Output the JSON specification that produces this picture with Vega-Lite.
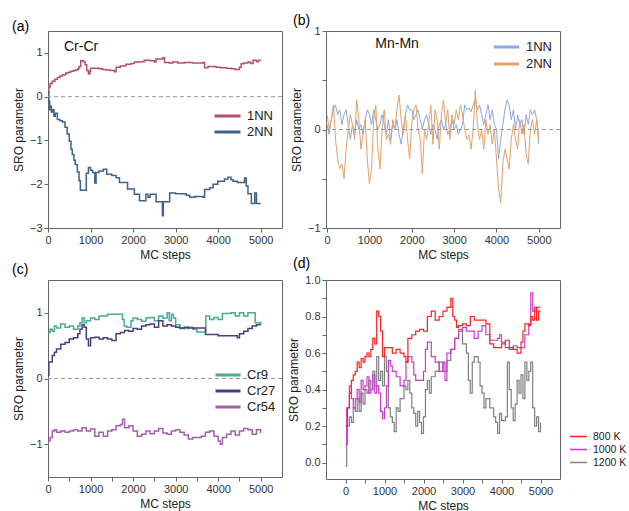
{
  "$schema": "https://vega.github.io/schema/vega-lite/v6.json",
  "padding": {"left": 11, "top": 13, "right": 5, "bottom": 3},
  "background": "white",
  "config": {
    "font": "Liberation Sans",
    "view": {"stroke": "#666", "strokeWidth": 1},
    "axis": {"domain": false, "grid": false, "tickColor": "#666", "tickSize": 4, "labelFontSize": 11, "labelColor": "#333", "titleFontSize": 12, "titleFontWeight": "normal", "titleColor": "#222", "labelFont": "Liberation Sans", "titleFont": "Liberation Sans", "labelOverlap": false, "labelFlush": false},
    "legend": {"orient": "none", "padding": 0, "labelFont": "Liberation Sans", "labelColor": "#222", "symbolType": "stroke", "title": null}
  },
  "datasets": {
    "a": [
      {"step":0,"sro":0.1,"s":"1NN"},{"step":20,"sro":0.22,"s":"1NN"},{"step":50,"sro":0.3,"s":"1NN"},{"step":100,"sro":0.35,"s":"1NN"},{"step":160,"sro":0.4,"s":"1NN"},{"step":220,"sro":0.44,"s":"1NN"},{"step":280,"sro":0.47,"s":"1NN"},{"step":340,"sro":0.5,"s":"1NN"},{"step":420,"sro":0.54,"s":"1NN"},{"step":480,"sro":0.56,"s":"1NN"},{"step":530,"sro":0.58,"s":"1NN"},{"step":600,"sro":0.6,"s":"1NN"},{"step":650,"sro":0.61,"s":"1NN"},{"step":700,"sro":0.64,"s":"1NN"},{"step":730,"sro":0.69,"s":"1NN"},{"step":770,"sro":0.82,"s":"1NN"},{"step":830,"sro":0.8,"s":"1NN"},{"step":870,"sro":0.73,"s":"1NN"},{"step":910,"sro":0.6,"s":"1NN"},{"step":950,"sro":0.52,"s":"1NN"},{"step":980,"sro":0.57,"s":"1NN"},{"step":1000,"sro":0.65,"s":"1NN"},{"step":1200,"sro":0.64,"s":"1NN"},{"step":1280,"sro":0.62,"s":"1NN"},{"step":1360,"sro":0.61,"s":"1NN"},{"step":1460,"sro":0.6,"s":"1NN"},{"step":1560,"sro":0.57,"s":"1NN"},{"step":1600,"sro":0.67,"s":"1NN"},{"step":1700,"sro":0.7,"s":"1NN"},{"step":1830,"sro":0.74,"s":"1NN"},{"step":1950,"sro":0.76,"s":"1NN"},{"step":2030,"sro":0.79,"s":"1NN"},{"step":2150,"sro":0.8,"s":"1NN"},{"step":2260,"sro":0.83,"s":"1NN"},{"step":2400,"sro":0.82,"s":"1NN"},{"step":2500,"sro":0.79,"s":"1NN"},{"step":2540,"sro":0.86,"s":"1NN"},{"step":2700,"sro":0.89,"s":"1NN"},{"step":2740,"sro":0.78,"s":"1NN"},{"step":2850,"sro":0.77,"s":"1NN"},{"step":2930,"sro":0.79,"s":"1NN"},{"step":3050,"sro":0.77,"s":"1NN"},{"step":3210,"sro":0.78,"s":"1NN"},{"step":3400,"sro":0.77,"s":"1NN"},{"step":3640,"sro":0.78,"s":"1NN"},{"step":3680,"sro":0.66,"s":"1NN"},{"step":3760,"sro":0.69,"s":"1NN"},{"step":3950,"sro":0.67,"s":"1NN"},{"step":4050,"sro":0.66,"s":"1NN"},{"step":4190,"sro":0.65,"s":"1NN"},{"step":4300,"sro":0.64,"s":"1NN"},{"step":4390,"sro":0.62,"s":"1NN"},{"step":4500,"sro":0.67,"s":"1NN"},{"step":4540,"sro":0.75,"s":"1NN"},{"step":4600,"sro":0.77,"s":"1NN"},{"step":4700,"sro":0.79,"s":"1NN"},{"step":4760,"sro":0.76,"s":"1NN"},{"step":4820,"sro":0.83,"s":"1NN"},{"step":4900,"sro":0.8,"s":"1NN"},{"step":4950,"sro":0.83,"s":"1NN"},{"step":5000,"sro":0.83,"s":"1NN"},
      {"step":0,"sro":0.1,"s":"2NN"},{"step":20,"sro":-0.1,"s":"2NN"},{"step":40,"sro":-0.3,"s":"2NN"},{"step":60,"sro":-0.22,"s":"2NN"},{"step":80,"sro":-0.35,"s":"2NN"},{"step":110,"sro":-0.3,"s":"2NN"},{"step":140,"sro":-0.45,"s":"2NN"},{"step":170,"sro":-0.38,"s":"2NN"},{"step":220,"sro":-0.52,"s":"2NN"},{"step":280,"sro":-0.55,"s":"2NN"},{"step":340,"sro":-0.58,"s":"2NN"},{"step":400,"sro":-0.7,"s":"2NN"},{"step":450,"sro":-0.85,"s":"2NN"},{"step":500,"sro":-1.02,"s":"2NN"},{"step":540,"sro":-1.2,"s":"2NN"},{"step":570,"sro":-1.32,"s":"2NN"},{"step":610,"sro":-1.45,"s":"2NN"},{"step":640,"sro":-1.55,"s":"2NN"},{"step":690,"sro":-1.72,"s":"2NN"},{"step":730,"sro":-1.92,"s":"2NN"},{"step":760,"sro":-2.14,"s":"2NN"},{"step":900,"sro":-1.75,"s":"2NN"},{"step":950,"sro":-1.62,"s":"2NN"},{"step":1000,"sro":-1.68,"s":"2NN"},{"step":1050,"sro":-1.73,"s":"2NN"},{"step":1100,"sro":-1.97,"s":"2NN"},{"step":1130,"sro":-1.73,"s":"2NN"},{"step":1200,"sro":-1.7,"s":"2NN"},{"step":1300,"sro":-1.66,"s":"2NN"},{"step":1380,"sro":-1.77,"s":"2NN"},{"step":1500,"sro":-1.8,"s":"2NN"},{"step":1600,"sro":-1.85,"s":"2NN"},{"step":1680,"sro":-1.96,"s":"2NN"},{"step":1870,"sro":-2.11,"s":"2NN"},{"step":2030,"sro":-2.23,"s":"2NN"},{"step":2150,"sro":-2.38,"s":"2NN"},{"step":2300,"sro":-2.23,"s":"2NN"},{"step":2350,"sro":-2.3,"s":"2NN"},{"step":2400,"sro":-2.23,"s":"2NN"},{"step":2540,"sro":-2.4,"s":"2NN"},{"step":2690,"sro":-2.72,"s":"2NN"},{"step":2710,"sro":-2.4,"s":"2NN"},{"step":2860,"sro":-2.2,"s":"2NN"},{"step":3000,"sro":-2.22,"s":"2NN"},{"step":3250,"sro":-2.25,"s":"2NN"},{"step":3330,"sro":-2.3,"s":"2NN"},{"step":3450,"sro":-2.28,"s":"2NN"},{"step":3640,"sro":-2.3,"s":"2NN"},{"step":3680,"sro":-2.12,"s":"2NN"},{"step":3800,"sro":-2.08,"s":"2NN"},{"step":3880,"sro":-2.0,"s":"2NN"},{"step":3990,"sro":-1.93,"s":"2NN"},{"step":4150,"sro":-1.88,"s":"2NN"},{"step":4230,"sro":-1.84,"s":"2NN"},{"step":4300,"sro":-1.9,"s":"2NN"},{"step":4350,"sro":-1.93,"s":"2NN"},{"step":4450,"sro":-1.96,"s":"2NN"},{"step":4580,"sro":-1.96,"s":"2NN"},{"step":4620,"sro":-1.86,"s":"2NN"},{"step":4660,"sro":-2.04,"s":"2NN"},{"step":4700,"sro":-2.22,"s":"2NN"},{"step":4780,"sro":-2.44,"s":"2NN"},{"step":4860,"sro":-2.2,"s":"2NN"},{"step":4900,"sro":-2.44,"s":"2NN"},{"step":5000,"sro":-2.44,"s":"2NN"}
    ],
    "b": [
      {"step":0,"sro":0.05,"s":"1NN"},{"step":50,"sro":-0.05,"s":"1NN"},{"step":100,"sro":0.1,"s":"1NN"},{"step":150,"sro":0.2,"s":"1NN"},{"step":200,"sro":0.25,"s":"1NN"},{"step":250,"sro":0.15,"s":"1NN"},{"step":300,"sro":0.2,"s":"1NN"},{"step":350,"sro":0.05,"s":"1NN"},{"step":400,"sro":0.15,"s":"1NN"},{"step":450,"sro":0.2,"s":"1NN"},{"step":500,"sro":0.05,"s":"1NN"},{"step":550,"sro":-0.1,"s":"1NN"},{"step":600,"sro":0.05,"s":"1NN"},{"step":650,"sro":-0.05,"s":"1NN"},{"step":700,"sro":0.1,"s":"1NN"},{"step":750,"sro":0.0,"s":"1NN"},{"step":800,"sro":0.05,"s":"1NN"},{"step":850,"sro":-0.05,"s":"1NN"},{"step":900,"sro":0.1,"s":"1NN"},{"step":950,"sro":0.2,"s":"1NN"},{"step":1000,"sro":0.15,"s":"1NN"},{"step":1050,"sro":0.05,"s":"1NN"},{"step":1100,"sro":0.2,"s":"1NN"},{"step":1150,"sro":0.1,"s":"1NN"},{"step":1200,"sro":0.0,"s":"1NN"},{"step":1250,"sro":0.05,"s":"1NN"},{"step":1300,"sro":0.15,"s":"1NN"},{"step":1350,"sro":0.05,"s":"1NN"},{"step":1400,"sro":-0.05,"s":"1NN"},{"step":1450,"sro":0.1,"s":"1NN"},{"step":1500,"sro":-0.1,"s":"1NN"},{"step":1550,"sro":0.05,"s":"1NN"},{"step":1600,"sro":0.0,"s":"1NN"},{"step":1650,"sro":0.1,"s":"1NN"},{"step":1700,"sro":-0.05,"s":"1NN"},{"step":1750,"sro":-0.15,"s":"1NN"},{"step":1800,"sro":0.0,"s":"1NN"},{"step":1850,"sro":0.15,"s":"1NN"},{"step":1900,"sro":0.25,"s":"1NN"},{"step":1950,"sro":0.2,"s":"1NN"},{"step":2000,"sro":0.2,"s":"1NN"},{"step":2050,"sro":0.1,"s":"1NN"},{"step":2100,"sro":0.15,"s":"1NN"},{"step":2150,"sro":0.2,"s":"1NN"},{"step":2200,"sro":0.1,"s":"1NN"},{"step":2250,"sro":0.0,"s":"1NN"},{"step":2300,"sro":0.1,"s":"1NN"},{"step":2350,"sro":0.15,"s":"1NN"},{"step":2400,"sro":0.05,"s":"1NN"},{"step":2450,"sro":-0.05,"s":"1NN"},{"step":2500,"sro":0.05,"s":"1NN"},{"step":2550,"sro":0.0,"s":"1NN"},{"step":2600,"sro":-0.1,"s":"1NN"},{"step":2650,"sro":0.05,"s":"1NN"},{"step":2700,"sro":0.1,"s":"1NN"},{"step":2750,"sro":0.0,"s":"1NN"},{"step":2800,"sro":0.05,"s":"1NN"},{"step":2850,"sro":-0.05,"s":"1NN"},{"step":2900,"sro":0.0,"s":"1NN"},{"step":2950,"sro":0.1,"s":"1NN"},{"step":3000,"sro":0.0,"s":"1NN"},{"step":3050,"sro":0.05,"s":"1NN"},{"step":3100,"sro":-0.05,"s":"1NN"},{"step":3150,"sro":0.0,"s":"1NN"},{"step":3200,"sro":0.05,"s":"1NN"},{"step":3250,"sro":0.25,"s":"1NN"},{"step":3300,"sro":0.2,"s":"1NN"},{"step":3350,"sro":0.22,"s":"1NN"},{"step":3400,"sro":0.18,"s":"1NN"},{"step":3450,"sro":0.25,"s":"1NN"},{"step":3500,"sro":0.3,"s":"1NN"},{"step":3550,"sro":0.2,"s":"1NN"},{"step":3600,"sro":0.25,"s":"1NN"},{"step":3650,"sro":0.15,"s":"1NN"},{"step":3700,"sro":0.05,"s":"1NN"},{"step":3750,"sro":0.15,"s":"1NN"},{"step":3800,"sro":0.25,"s":"1NN"},{"step":3850,"sro":0.1,"s":"1NN"},{"step":3900,"sro":0.2,"s":"1NN"},{"step":3950,"sro":0.05,"s":"1NN"},{"step":4000,"sro":0.0,"s":"1NN"},{"step":4050,"sro":-0.3,"s":"1NN"},{"step":4100,"sro":-0.1,"s":"1NN"},{"step":4150,"sro":0.05,"s":"1NN"},{"step":4200,"sro":0.2,"s":"1NN"},{"step":4250,"sro":0.3,"s":"1NN"},{"step":4300,"sro":0.25,"s":"1NN"},{"step":4350,"sro":0.1,"s":"1NN"},{"step":4400,"sro":0.2,"s":"1NN"},{"step":4450,"sro":0.0,"s":"1NN"},{"step":4500,"sro":0.15,"s":"1NN"},{"step":4550,"sro":0.05,"s":"1NN"},{"step":4600,"sro":0.1,"s":"1NN"},{"step":4650,"sro":-0.05,"s":"1NN"},{"step":4700,"sro":0.15,"s":"1NN"},{"step":4750,"sro":0.05,"s":"1NN"},{"step":4800,"sro":0.2,"s":"1NN"},{"step":4850,"sro":0.15,"s":"1NN"},{"step":4900,"sro":0.2,"s":"1NN"},{"step":4950,"sro":0.1,"s":"1NN"},{"step":5000,"sro":-0.15,"s":"1NN"},
      {"step":0,"sro":0.15,"s":"2NN"},{"step":50,"sro":0.0,"s":"2NN"},{"step":100,"sro":0.1,"s":"2NN"},{"step":150,"sro":0.25,"s":"2NN"},{"step":200,"sro":-0.1,"s":"2NN"},{"step":250,"sro":-0.3,"s":"2NN"},{"step":300,"sro":-0.4,"s":"2NN"},{"step":350,"sro":-0.35,"s":"2NN"},{"step":400,"sro":-0.5,"s":"2NN"},{"step":450,"sro":-0.2,"s":"2NN"},{"step":500,"sro":0.0,"s":"2NN"},{"step":550,"sro":0.15,"s":"2NN"},{"step":600,"sro":0.05,"s":"2NN"},{"step":650,"sro":-0.1,"s":"2NN"},{"step":700,"sro":0.3,"s":"2NN"},{"step":750,"sro":0.1,"s":"2NN"},{"step":800,"sro":-0.2,"s":"2NN"},{"step":850,"sro":-0.05,"s":"2NN"},{"step":900,"sro":0.1,"s":"2NN"},{"step":950,"sro":-0.3,"s":"2NN"},{"step":1000,"sro":-0.55,"s":"2NN"},{"step":1050,"sro":-0.4,"s":"2NN"},{"step":1100,"sro":0.1,"s":"2NN"},{"step":1150,"sro":0.25,"s":"2NN"},{"step":1200,"sro":-0.2,"s":"2NN"},{"step":1250,"sro":-0.4,"s":"2NN"},{"step":1300,"sro":0.0,"s":"2NN"},{"step":1350,"sro":0.2,"s":"2NN"},{"step":1400,"sro":-0.1,"s":"2NN"},{"step":1450,"sro":-0.05,"s":"2NN"},{"step":1500,"sro":-0.15,"s":"2NN"},{"step":1550,"sro":0.1,"s":"2NN"},{"step":1600,"sro":0.0,"s":"2NN"},{"step":1650,"sro":0.2,"s":"2NN"},{"step":1700,"sro":0.35,"s":"2NN"},{"step":1750,"sro":0.1,"s":"2NN"},{"step":1800,"sro":-0.05,"s":"2NN"},{"step":1850,"sro":0.15,"s":"2NN"},{"step":1900,"sro":-0.1,"s":"2NN"},{"step":1950,"sro":-0.3,"s":"2NN"},{"step":2000,"sro":0.05,"s":"2NN"},{"step":2050,"sro":0.2,"s":"2NN"},{"step":2100,"sro":0.25,"s":"2NN"},{"step":2150,"sro":0.0,"s":"2NN"},{"step":2200,"sro":-0.1,"s":"2NN"},{"step":2250,"sro":-0.45,"s":"2NN"},{"step":2300,"sro":0.0,"s":"2NN"},{"step":2350,"sro":-0.1,"s":"2NN"},{"step":2400,"sro":0.05,"s":"2NN"},{"step":2450,"sro":0.25,"s":"2NN"},{"step":2500,"sro":-0.15,"s":"2NN"},{"step":2550,"sro":0.2,"s":"2NN"},{"step":2600,"sro":0.1,"s":"2NN"},{"step":2650,"sro":-0.2,"s":"2NN"},{"step":2700,"sro":0.15,"s":"2NN"},{"step":2750,"sro":0.3,"s":"2NN"},{"step":2800,"sro":0.05,"s":"2NN"},{"step":2850,"sro":0.2,"s":"2NN"},{"step":2900,"sro":-0.1,"s":"2NN"},{"step":2950,"sro":0.15,"s":"2NN"},{"step":3000,"sro":0.05,"s":"2NN"},{"step":3050,"sro":0.2,"s":"2NN"},{"step":3100,"sro":0.1,"s":"2NN"},{"step":3150,"sro":0.25,"s":"2NN"},{"step":3200,"sro":0.15,"s":"2NN"},{"step":3250,"sro":0.0,"s":"2NN"},{"step":3300,"sro":-0.1,"s":"2NN"},{"step":3350,"sro":-0.05,"s":"2NN"},{"step":3400,"sro":-0.2,"s":"2NN"},{"step":3450,"sro":0.0,"s":"2NN"},{"step":3500,"sro":0.4,"s":"2NN"},{"step":3550,"sro":0.05,"s":"2NN"},{"step":3600,"sro":-0.1,"s":"2NN"},{"step":3650,"sro":0.0,"s":"2NN"},{"step":3700,"sro":-0.2,"s":"2NN"},{"step":3750,"sro":0.1,"s":"2NN"},{"step":3800,"sro":-0.05,"s":"2NN"},{"step":3850,"sro":0.05,"s":"2NN"},{"step":3900,"sro":-0.15,"s":"2NN"},{"step":3950,"sro":0.0,"s":"2NN"},{"step":4000,"sro":-0.3,"s":"2NN"},{"step":4050,"sro":-0.6,"s":"2NN"},{"step":4100,"sro":-0.75,"s":"2NN"},{"step":4150,"sro":-0.35,"s":"2NN"},{"step":4200,"sro":-0.2,"s":"2NN"},{"step":4250,"sro":-0.3,"s":"2NN"},{"step":4300,"sro":-0.4,"s":"2NN"},{"step":4350,"sro":-0.1,"s":"2NN"},{"step":4400,"sro":0.05,"s":"2NN"},{"step":4450,"sro":-0.1,"s":"2NN"},{"step":4500,"sro":-0.2,"s":"2NN"},{"step":4550,"sro":0.1,"s":"2NN"},{"step":4600,"sro":-0.05,"s":"2NN"},{"step":4650,"sro":0.05,"s":"2NN"},{"step":4700,"sro":-0.25,"s":"2NN"},{"step":4750,"sro":-0.35,"s":"2NN"},{"step":4800,"sro":0.0,"s":"2NN"},{"step":4850,"sro":0.1,"s":"2NN"},{"step":4900,"sro":-0.05,"s":"2NN"},{"step":4950,"sro":0.1,"s":"2NN"},{"step":5000,"sro":-0.1,"s":"2NN"}
    ],
    "c": [
      {"step":0,"sro":0.7,"s":"Cr9"},{"step":50,"sro":0.75,"s":"Cr9"},{"step":100,"sro":0.72,"s":"Cr9"},{"step":150,"sro":0.8,"s":"Cr9"},{"step":200,"sro":0.77,"s":"Cr9"},{"step":300,"sro":0.83,"s":"Cr9"},{"step":400,"sro":0.78,"s":"Cr9"},{"step":500,"sro":0.8,"s":"Cr9"},{"step":600,"sro":0.75,"s":"Cr9"},{"step":700,"sro":0.8,"s":"Cr9"},{"step":750,"sro":0.85,"s":"Cr9"},{"step":800,"sro":0.92,"s":"Cr9"},{"step":850,"sro":0.85,"s":"Cr9"},{"step":900,"sro":0.88,"s":"Cr9"},{"step":1000,"sro":0.92,"s":"Cr9"},{"step":1100,"sro":0.9,"s":"Cr9"},{"step":1200,"sro":0.95,"s":"Cr9"},{"step":1400,"sro":0.98,"s":"Cr9"},{"step":1750,"sro":0.9,"s":"Cr9"},{"step":1790,"sro":0.8,"s":"Cr9"},{"step":1850,"sro":0.78,"s":"Cr9"},{"step":1950,"sro":0.88,"s":"Cr9"},{"step":2000,"sro":0.92,"s":"Cr9"},{"step":2100,"sro":0.9,"s":"Cr9"},{"step":2200,"sro":0.87,"s":"Cr9"},{"step":2300,"sro":0.92,"s":"Cr9"},{"step":2400,"sro":0.93,"s":"Cr9"},{"step":2500,"sro":0.88,"s":"Cr9"},{"step":2600,"sro":0.95,"s":"Cr9"},{"step":2700,"sro":0.92,"s":"Cr9"},{"step":2800,"sro":1.0,"s":"Cr9"},{"step":2850,"sro":0.88,"s":"Cr9"},{"step":2900,"sro":0.98,"s":"Cr9"},{"step":2950,"sro":0.92,"s":"Cr9"},{"step":3000,"sro":0.82,"s":"Cr9"},{"step":3100,"sro":0.76,"s":"Cr9"},{"step":3300,"sro":0.78,"s":"Cr9"},{"step":3400,"sro":0.75,"s":"Cr9"},{"step":3500,"sro":0.71,"s":"Cr9"},{"step":3710,"sro":0.95,"s":"Cr9"},{"step":3800,"sro":0.9,"s":"Cr9"},{"step":3900,"sro":0.93,"s":"Cr9"},{"step":4000,"sro":0.9,"s":"Cr9"},{"step":4100,"sro":0.99,"s":"Cr9"},{"step":4300,"sro":1.0,"s":"Cr9"},{"step":4400,"sro":0.95,"s":"Cr9"},{"step":4500,"sro":1.0,"s":"Cr9"},{"step":4600,"sro":0.95,"s":"Cr9"},{"step":4700,"sro":1.0,"s":"Cr9"},{"step":4870,"sro":0.85,"s":"Cr9"},{"step":5000,"sro":0.82,"s":"Cr9"},
      {"step":0,"sro":0.05,"s":"Cr27"},{"step":20,"sro":0.25,"s":"Cr27"},{"step":100,"sro":0.35,"s":"Cr27"},{"step":150,"sro":0.4,"s":"Cr27"},{"step":200,"sro":0.45,"s":"Cr27"},{"step":300,"sro":0.52,"s":"Cr27"},{"step":400,"sro":0.55,"s":"Cr27"},{"step":500,"sro":0.6,"s":"Cr27"},{"step":600,"sro":0.62,"s":"Cr27"},{"step":700,"sro":0.68,"s":"Cr27"},{"step":750,"sro":0.75,"s":"Cr27"},{"step":800,"sro":0.82,"s":"Cr27"},{"step":850,"sro":0.78,"s":"Cr27"},{"step":900,"sro":0.6,"s":"Cr27"},{"step":950,"sro":0.5,"s":"Cr27"},{"step":1000,"sro":0.62,"s":"Cr27"},{"step":1100,"sro":0.63,"s":"Cr27"},{"step":1200,"sro":0.6,"s":"Cr27"},{"step":1300,"sro":0.62,"s":"Cr27"},{"step":1400,"sro":0.6,"s":"Cr27"},{"step":1500,"sro":0.58,"s":"Cr27"},{"step":1600,"sro":0.68,"s":"Cr27"},{"step":1700,"sro":0.7,"s":"Cr27"},{"step":1800,"sro":0.73,"s":"Cr27"},{"step":1900,"sro":0.72,"s":"Cr27"},{"step":2000,"sro":0.76,"s":"Cr27"},{"step":2100,"sro":0.75,"s":"Cr27"},{"step":2200,"sro":0.8,"s":"Cr27"},{"step":2300,"sro":0.82,"s":"Cr27"},{"step":2400,"sro":0.83,"s":"Cr27"},{"step":2500,"sro":0.78,"s":"Cr27"},{"step":2600,"sro":0.88,"s":"Cr27"},{"step":2700,"sro":0.8,"s":"Cr27"},{"step":2800,"sro":0.82,"s":"Cr27"},{"step":2900,"sro":0.8,"s":"Cr27"},{"step":3000,"sro":0.78,"s":"Cr27"},{"step":3100,"sro":0.77,"s":"Cr27"},{"step":3200,"sro":0.78,"s":"Cr27"},{"step":3300,"sro":0.77,"s":"Cr27"},{"step":3700,"sro":0.67,"s":"Cr27"},{"step":4000,"sro":0.65,"s":"Cr27"},{"step":4450,"sro":0.62,"s":"Cr27"},{"step":4500,"sro":0.68,"s":"Cr27"},{"step":4600,"sro":0.72,"s":"Cr27"},{"step":4700,"sro":0.76,"s":"Cr27"},{"step":4800,"sro":0.8,"s":"Cr27"},{"step":4900,"sro":0.82,"s":"Cr27"},{"step":5000,"sro":0.82,"s":"Cr27"},
      {"step":0,"sro":-0.95,"s":"Cr54"},{"step":50,"sro":-0.9,"s":"Cr54"},{"step":100,"sro":-0.8,"s":"Cr54"},{"step":150,"sro":-0.78,"s":"Cr54"},{"step":200,"sro":-0.82,"s":"Cr54"},{"step":300,"sro":-0.8,"s":"Cr54"},{"step":400,"sro":-0.82,"s":"Cr54"},{"step":500,"sro":-0.8,"s":"Cr54"},{"step":600,"sro":-0.78,"s":"Cr54"},{"step":700,"sro":-0.8,"s":"Cr54"},{"step":800,"sro":-0.75,"s":"Cr54"},{"step":900,"sro":-0.8,"s":"Cr54"},{"step":1000,"sro":-0.77,"s":"Cr54"},{"step":1100,"sro":-0.88,"s":"Cr54"},{"step":1200,"sro":-0.82,"s":"Cr54"},{"step":1300,"sro":-0.88,"s":"Cr54"},{"step":1400,"sro":-0.8,"s":"Cr54"},{"step":1500,"sro":-0.78,"s":"Cr54"},{"step":1600,"sro":-0.72,"s":"Cr54"},{"step":1700,"sro":-0.7,"s":"Cr54"},{"step":1750,"sro":-0.62,"s":"Cr54"},{"step":1800,"sro":-0.75,"s":"Cr54"},{"step":1900,"sro":-0.72,"s":"Cr54"},{"step":2000,"sro":-0.8,"s":"Cr54"},{"step":2100,"sro":-0.88,"s":"Cr54"},{"step":2200,"sro":-0.85,"s":"Cr54"},{"step":2300,"sro":-0.8,"s":"Cr54"},{"step":2400,"sro":-0.84,"s":"Cr54"},{"step":2500,"sro":-0.8,"s":"Cr54"},{"step":2600,"sro":-0.76,"s":"Cr54"},{"step":2700,"sro":-0.83,"s":"Cr54"},{"step":2800,"sro":-0.85,"s":"Cr54"},{"step":2900,"sro":-0.8,"s":"Cr54"},{"step":3000,"sro":-0.78,"s":"Cr54"},{"step":3100,"sro":-0.82,"s":"Cr54"},{"step":3200,"sro":-0.86,"s":"Cr54"},{"step":3300,"sro":-0.92,"s":"Cr54"},{"step":3400,"sro":-0.9,"s":"Cr54"},{"step":3500,"sro":-0.9,"s":"Cr54"},{"step":3600,"sro":-0.88,"s":"Cr54"},{"step":3700,"sro":-0.82,"s":"Cr54"},{"step":3800,"sro":-0.8,"s":"Cr54"},{"step":3900,"sro":-0.88,"s":"Cr54"},{"step":4000,"sro":-0.95,"s":"Cr54"},{"step":4050,"sro":-1.0,"s":"Cr54"},{"step":4100,"sro":-0.9,"s":"Cr54"},{"step":4200,"sro":-0.85,"s":"Cr54"},{"step":4300,"sro":-0.8,"s":"Cr54"},{"step":4400,"sro":-0.86,"s":"Cr54"},{"step":4500,"sro":-0.8,"s":"Cr54"},{"step":4600,"sro":-0.76,"s":"Cr54"},{"step":4700,"sro":-0.78,"s":"Cr54"},{"step":4800,"sro":-0.85,"s":"Cr54"},{"step":4900,"sro":-0.78,"s":"Cr54"},{"step":5000,"sro":-0.83,"s":"Cr54"}
    ],
    "d": [
      {"step":0,"sro":-0.02,"s":"1200 K"},{"step":30,"sro":0.1,"s":"1200 K"},{"step":50,"sro":0.2,"s":"1200 K"},{"step":100,"sro":0.25,"s":"1200 K"},{"step":150,"sro":0.22,"s":"1200 K"},{"step":200,"sro":0.3,"s":"1200 K"},{"step":250,"sro":0.28,"s":"1200 K"},{"step":300,"sro":0.35,"s":"1200 K"},{"step":350,"sro":0.28,"s":"1200 K"},{"step":400,"sro":0.38,"s":"1200 K"},{"step":450,"sro":0.32,"s":"1200 K"},{"step":500,"sro":0.4,"s":"1200 K"},{"step":550,"sro":0.38,"s":"1200 K"},{"step":600,"sro":0.45,"s":"1200 K"},{"step":650,"sro":0.4,"s":"1200 K"},{"step":700,"sro":0.5,"s":"1200 K"},{"step":750,"sro":0.42,"s":"1200 K"},{"step":800,"sro":0.58,"s":"1200 K"},{"step":850,"sro":0.45,"s":"1200 K"},{"step":900,"sro":0.5,"s":"1200 K"},{"step":950,"sro":0.42,"s":"1200 K"},{"step":1000,"sro":0.58,"s":"1200 K"},{"step":1050,"sro":0.5,"s":"1200 K"},{"step":1100,"sro":0.3,"s":"1200 K"},{"step":1150,"sro":0.25,"s":"1200 K"},{"step":1200,"sro":0.22,"s":"1200 K"},{"step":1250,"sro":0.17,"s":"1200 K"},{"step":1300,"sro":0.3,"s":"1200 K"},{"step":1350,"sro":0.28,"s":"1200 K"},{"step":1400,"sro":0.35,"s":"1200 K"},{"step":1500,"sro":0.42,"s":"1200 K"},{"step":1550,"sro":0.4,"s":"1200 K"},{"step":1600,"sro":0.45,"s":"1200 K"},{"step":1650,"sro":0.38,"s":"1200 K"},{"step":1700,"sro":0.3,"s":"1200 K"},{"step":1750,"sro":0.27,"s":"1200 K"},{"step":1800,"sro":0.2,"s":"1200 K"},{"step":1850,"sro":0.28,"s":"1200 K"},{"step":1900,"sro":0.22,"s":"1200 K"},{"step":1950,"sro":0.16,"s":"1200 K"},{"step":2000,"sro":0.25,"s":"1200 K"},{"step":2050,"sro":0.4,"s":"1200 K"},{"step":2100,"sro":0.45,"s":"1200 K"},{"step":2150,"sro":0.38,"s":"1200 K"},{"step":2200,"sro":0.47,"s":"1200 K"},{"step":2300,"sro":0.5,"s":"1200 K"},{"step":2400,"sro":0.55,"s":"1200 K"},{"step":2500,"sro":0.5,"s":"1200 K"},{"step":2600,"sro":0.56,"s":"1200 K"},{"step":2700,"sro":0.62,"s":"1200 K"},{"step":2800,"sro":0.68,"s":"1200 K"},{"step":2900,"sro":0.73,"s":"1200 K"},{"step":3000,"sro":0.65,"s":"1200 K"},{"step":3100,"sro":0.6,"s":"1200 K"},{"step":3150,"sro":0.45,"s":"1200 K"},{"step":3200,"sro":0.38,"s":"1200 K"},{"step":3250,"sro":0.55,"s":"1200 K"},{"step":3300,"sro":0.58,"s":"1200 K"},{"step":3400,"sro":0.55,"s":"1200 K"},{"step":3450,"sro":0.42,"s":"1200 K"},{"step":3500,"sro":0.38,"s":"1200 K"},{"step":3550,"sro":0.3,"s":"1200 K"},{"step":3600,"sro":0.35,"s":"1200 K"},{"step":3700,"sro":0.3,"s":"1200 K"},{"step":3800,"sro":0.25,"s":"1200 K"},{"step":3850,"sro":0.22,"s":"1200 K"},{"step":3900,"sro":0.16,"s":"1200 K"},{"step":3950,"sro":0.27,"s":"1200 K"},{"step":4000,"sro":0.23,"s":"1200 K"},{"step":4100,"sro":0.25,"s":"1200 K"},{"step":4150,"sro":0.55,"s":"1200 K"},{"step":4200,"sro":0.4,"s":"1200 K"},{"step":4250,"sro":0.3,"s":"1200 K"},{"step":4300,"sro":0.23,"s":"1200 K"},{"step":4350,"sro":0.32,"s":"1200 K"},{"step":4400,"sro":0.45,"s":"1200 K"},{"step":4450,"sro":0.38,"s":"1200 K"},{"step":4500,"sro":0.48,"s":"1200 K"},{"step":4550,"sro":0.35,"s":"1200 K"},{"step":4600,"sro":0.55,"s":"1200 K"},{"step":4650,"sro":0.45,"s":"1200 K"},{"step":4700,"sro":0.5,"s":"1200 K"},{"step":4750,"sro":0.55,"s":"1200 K"},{"step":4800,"sro":0.3,"s":"1200 K"},{"step":4850,"sro":0.2,"s":"1200 K"},{"step":4900,"sro":0.25,"s":"1200 K"},{"step":4950,"sro":0.17,"s":"1200 K"},{"step":5000,"sro":0.22,"s":"1200 K"},
      {"step":0,"sro":0.1,"s":"1000 K"},{"step":30,"sro":0.3,"s":"1000 K"},{"step":100,"sro":0.42,"s":"1000 K"},{"step":150,"sro":0.35,"s":"1000 K"},{"step":200,"sro":0.3,"s":"1000 K"},{"step":250,"sro":0.35,"s":"1000 K"},{"step":300,"sro":0.4,"s":"1000 K"},{"step":350,"sro":0.33,"s":"1000 K"},{"step":400,"sro":0.45,"s":"1000 K"},{"step":450,"sro":0.4,"s":"1000 K"},{"step":500,"sro":0.42,"s":"1000 K"},{"step":550,"sro":0.47,"s":"1000 K"},{"step":600,"sro":0.38,"s":"1000 K"},{"step":650,"sro":0.4,"s":"1000 K"},{"step":700,"sro":0.48,"s":"1000 K"},{"step":750,"sro":0.38,"s":"1000 K"},{"step":800,"sro":0.42,"s":"1000 K"},{"step":850,"sro":0.38,"s":"1000 K"},{"step":900,"sro":0.28,"s":"1000 K"},{"step":950,"sro":0.24,"s":"1000 K"},{"step":1000,"sro":0.3,"s":"1000 K"},{"step":1050,"sro":0.42,"s":"1000 K"},{"step":1100,"sro":0.56,"s":"1000 K"},{"step":1150,"sro":0.53,"s":"1000 K"},{"step":1200,"sro":0.5,"s":"1000 K"},{"step":1300,"sro":0.47,"s":"1000 K"},{"step":1400,"sro":0.42,"s":"1000 K"},{"step":1500,"sro":0.45,"s":"1000 K"},{"step":1550,"sro":0.55,"s":"1000 K"},{"step":1600,"sro":0.58,"s":"1000 K"},{"step":1700,"sro":0.55,"s":"1000 K"},{"step":1750,"sro":0.48,"s":"1000 K"},{"step":1800,"sro":0.45,"s":"1000 K"},{"step":2000,"sro":0.5,"s":"1000 K"},{"step":2050,"sro":0.62,"s":"1000 K"},{"step":2100,"sro":0.66,"s":"1000 K"},{"step":2200,"sro":0.58,"s":"1000 K"},{"step":2300,"sro":0.55,"s":"1000 K"},{"step":2400,"sro":0.5,"s":"1000 K"},{"step":2500,"sro":0.55,"s":"1000 K"},{"step":2550,"sro":0.45,"s":"1000 K"},{"step":2600,"sro":0.6,"s":"1000 K"},{"step":2700,"sro":0.62,"s":"1000 K"},{"step":2800,"sro":0.68,"s":"1000 K"},{"step":2900,"sro":0.72,"s":"1000 K"},{"step":3000,"sro":0.74,"s":"1000 K"},{"step":3100,"sro":0.72,"s":"1000 K"},{"step":3300,"sro":0.68,"s":"1000 K"},{"step":3400,"sro":0.72,"s":"1000 K"},{"step":3500,"sro":0.75,"s":"1000 K"},{"step":3600,"sro":0.7,"s":"1000 K"},{"step":3700,"sro":0.67,"s":"1000 K"},{"step":3900,"sro":0.68,"s":"1000 K"},{"step":3950,"sro":0.7,"s":"1000 K"},{"step":4000,"sro":0.66,"s":"1000 K"},{"step":4100,"sro":0.63,"s":"1000 K"},{"step":4200,"sro":0.62,"s":"1000 K"},{"step":4300,"sro":0.64,"s":"1000 K"},{"step":4400,"sro":0.63,"s":"1000 K"},{"step":4600,"sro":0.7,"s":"1000 K"},{"step":4700,"sro":0.76,"s":"1000 K"},{"step":4750,"sro":0.93,"s":"1000 K"},{"step":4800,"sro":0.83,"s":"1000 K"},{"step":4900,"sro":0.85,"s":"1000 K"},{"step":5000,"sro":0.85,"s":"1000 K"},
      {"step":0,"sro":0.2,"s":"800 K"},{"step":50,"sro":0.3,"s":"800 K"},{"step":100,"sro":0.38,"s":"800 K"},{"step":150,"sro":0.45,"s":"800 K"},{"step":200,"sro":0.48,"s":"800 K"},{"step":250,"sro":0.5,"s":"800 K"},{"step":300,"sro":0.55,"s":"800 K"},{"step":350,"sro":0.52,"s":"800 K"},{"step":400,"sro":0.57,"s":"800 K"},{"step":450,"sro":0.55,"s":"800 K"},{"step":500,"sro":0.58,"s":"800 K"},{"step":550,"sro":0.6,"s":"800 K"},{"step":600,"sro":0.58,"s":"800 K"},{"step":650,"sro":0.62,"s":"800 K"},{"step":700,"sro":0.68,"s":"800 K"},{"step":750,"sro":0.65,"s":"800 K"},{"step":800,"sro":0.83,"s":"800 K"},{"step":850,"sro":0.8,"s":"800 K"},{"step":900,"sro":0.72,"s":"800 K"},{"step":950,"sro":0.58,"s":"800 K"},{"step":1000,"sro":0.63,"s":"800 K"},{"step":1200,"sro":0.6,"s":"800 K"},{"step":1300,"sro":0.62,"s":"800 K"},{"step":1400,"sro":0.6,"s":"800 K"},{"step":1500,"sro":0.58,"s":"800 K"},{"step":1550,"sro":0.55,"s":"800 K"},{"step":1600,"sro":0.68,"s":"800 K"},{"step":1700,"sro":0.7,"s":"800 K"},{"step":1800,"sro":0.72,"s":"800 K"},{"step":1900,"sro":0.73,"s":"800 K"},{"step":2000,"sro":0.72,"s":"800 K"},{"step":2100,"sro":0.8,"s":"800 K"},{"step":2200,"sro":0.83,"s":"800 K"},{"step":2300,"sro":0.78,"s":"800 K"},{"step":2400,"sro":0.8,"s":"800 K"},{"step":2500,"sro":0.83,"s":"800 K"},{"step":2600,"sro":0.85,"s":"800 K"},{"step":2700,"sro":0.9,"s":"800 K"},{"step":2750,"sro":0.8,"s":"800 K"},{"step":2800,"sro":0.78,"s":"800 K"},{"step":2850,"sro":0.74,"s":"800 K"},{"step":2900,"sro":0.75,"s":"800 K"},{"step":3000,"sro":0.76,"s":"800 K"},{"step":3100,"sro":0.75,"s":"800 K"},{"step":3200,"sro":0.8,"s":"800 K"},{"step":3300,"sro":0.78,"s":"800 K"},{"step":3600,"sro":0.76,"s":"800 K"},{"step":3700,"sro":0.65,"s":"800 K"},{"step":3800,"sro":0.63,"s":"800 K"},{"step":4000,"sro":0.65,"s":"800 K"},{"step":4100,"sro":0.67,"s":"800 K"},{"step":4200,"sro":0.63,"s":"800 K"},{"step":4300,"sro":0.62,"s":"800 K"},{"step":4400,"sro":0.6,"s":"800 K"},{"step":4500,"sro":0.66,"s":"800 K"},{"step":4550,"sro":0.72,"s":"800 K"},{"step":4600,"sro":0.76,"s":"800 K"},{"step":4700,"sro":0.75,"s":"800 K"},{"step":4750,"sro":0.8,"s":"800 K"},{"step":4800,"sro":0.78,"s":"800 K"},{"step":4850,"sro":0.85,"s":"800 K"},{"step":4900,"sro":0.78,"s":"800 K"},{"step":4950,"sro":0.83,"s":"800 K"},{"step":5000,"sro":0.83,"s":"800 K"}
    ]
  },
  "columns": 2,
  "bounds": "flush",
  "spacing": {"column": 44, "row": 52},
  "resolve": {"scale": {"color": "independent", "x": "independent", "y": "independent"}, "legend": {"color": "independent"}},
  "concat": [
    {
      "width": 234, "height": 197,
      "title": {"text": "(a)", "anchor": "start", "frame": "group", "dx": -36, "dy": 6, "offset": 3, "fontSize": 14, "fontWeight": "normal", "font": "Liberation Sans"},
      "layer": [
        {"data": {"name": "a"}, "mark": {"type": "line", "interpolate": "step-after", "strokeWidth": 1.5},
         "encoding": {
           "x": {"field": "step", "type": "quantitative", "scale": {"domain": [0, 5500], "nice": false}, "axis": {"title": "MC steps", "format": "d", "values": [0,500,1000,1500,2000,2500,3000,3500,4000,4500,5000], "labelExpr": "datum.value % 1000 == 0 ? datum.label : ''"}},
           "y": {"field": "sro", "type": "quantitative", "scale": {"domain": [-3, 1.5], "nice": false, "zero": false}, "axis": {"title": "SRO parameter", "values": [-3,-2.5,-2,-1.5,-1,-0.5,0,0.5,1], "labelExpr": "datum.value == 1 ? '1' : datum.value == 0 ? '0' : datum.value == -1 ? '−1' : datum.value == -2 ? '−2' : datum.value == -3 ? '−3' : ''"}},
           "color": {"field": "s", "type": "nominal", "scale": {"domain": ["1NN", "2NN"], "range": ["#b5506a", "#40618a"]},
             "legend": {"legendX": 165, "legendY": 78, "symbolSize": 676, "symbolStrokeWidth": 3, "clipHeight": 14, "rowPadding": 2, "labelFontSize": 13, "labelOffset": 5}}
         }},
        {"data": {"values": [{"z": 0}]}, "mark": {"type": "rule", "strokeDash": [4, 3], "color": "#999", "strokeWidth": 1}, "encoding": {"y": {"field": "z", "type": "quantitative"}}},
        {"data": {"values": [{}]}, "mark": {"type": "text", "align": "left", "baseline": "middle", "fontSize": 14, "color": "#111"}, "encoding": {"x": {"datum": 376}, "y": {"datum": 1.14}, "text": {"value": "Cr-Cr"}}}
      ]
    },
    {
      "width": 234, "height": 197,
      "title": {"text": "(b)", "anchor": "start", "frame": "group", "dx": -33, "dy": 6, "offset": 3, "fontSize": 14, "fontWeight": "normal", "font": "Liberation Sans"},
      "layer": [
        {"data": {"name": "b"}, "mark": {"type": "line", "strokeWidth": 1},
         "encoding": {
           "x": {"field": "step", "type": "quantitative", "scale": {"domain": [-25, 5500], "nice": false, "zero": false}, "axis": {"title": "MC steps", "format": "d", "values": [0,500,1000,1500,2000,2500,3000,3500,4000,4500,5000], "labelExpr": "datum.value % 1000 == 0 ? datum.label : ''"}},
           "y": {"field": "sro", "type": "quantitative", "scale": {"domain": [-1, 1], "nice": false}, "axis": {"title": "SRO parameter", "values": [-1,-0.5,0,0.5,1], "labelExpr": "datum.value == 1 ? '1' : datum.value == 0 ? '0' : datum.value == -1 ? '−1' : ''"}},
           "color": {"field": "s", "type": "nominal", "scale": {"domain": ["1NN", "2NN"], "range": ["#8fa7da", "#e2a26c"]},
             "legend": {"legendX": 166, "legendY": 9, "symbolSize": 640, "symbolStrokeWidth": 3, "clipHeight": 14, "rowPadding": 3, "labelFontSize": 13, "labelOffset": 5}}
         }},
        {"data": {"values": [{"z": 0}]}, "mark": {"type": "rule", "strokeDash": [4, 3], "color": "#999", "strokeWidth": 1}, "encoding": {"y": {"field": "z", "type": "quantitative"}}},
        {"data": {"values": [{}]}, "mark": {"type": "text", "align": "left", "baseline": "middle", "fontSize": 14, "color": "#111"}, "encoding": {"x": {"datum": 1140}, "y": {"datum": 0.87}, "text": {"value": "Mn-Mn"}}}
      ]
    },
    {
      "width": 234, "height": 197,
      "title": {"text": "(c)", "anchor": "start", "frame": "group", "dx": -36, "offset": 3, "fontSize": 14, "fontWeight": "normal", "font": "Liberation Sans"},
      "layer": [
        {"data": {"name": "c"}, "mark": {"type": "line", "interpolate": "step-after", "strokeWidth": 1.5},
         "encoding": {
           "x": {"field": "step", "type": "quantitative", "scale": {"domain": [0, 5500], "nice": false}, "axis": {"title": "MC steps", "format": "d", "values": [0,500,1000,1500,2000,2500,3000,3500,4000,4500,5000], "labelExpr": "datum.value % 1000 == 0 ? datum.label : ''"}},
           "y": {"field": "sro", "type": "quantitative", "scale": {"domain": [-1.5, 1.5], "nice": false}, "axis": {"title": "SRO parameter", "values": [-1, 0, 1], "labelExpr": "datum.value == 1 ? '1' : datum.value == 0 ? '0' : datum.value == -1 ? '−1' : ''"}},
           "color": {"field": "s", "type": "nominal", "scale": {"domain": ["Cr9", "Cr27", "Cr54"], "range": ["#46ad8f", "#4c3d7c", "#a45fae"]},
             "legend": {"legendX": 166, "legendY": 88, "symbolSize": 625, "symbolStrokeWidth": 3, "clipHeight": 14, "rowPadding": 2, "labelFontSize": 13, "labelOffset": 5}}
         }},
        {"data": {"values": [{"z": 0}]}, "mark": {"type": "rule", "strokeDash": [4, 3], "color": "#999", "strokeWidth": 1}, "encoding": {"y": {"field": "z", "type": "quantitative"}}}
      ]
    },
    {
      "width": 234, "height": 199,
      "title": {"text": "(d)", "anchor": "start", "frame": "group", "dx": -33, "offset": 3, "fontSize": 14, "fontWeight": "normal", "font": "Liberation Sans"},
      "layer": [
        {"data": {"name": "d"}, "mark": {"type": "line", "interpolate": "step-after", "strokeWidth": 1.2},
         "encoding": {
           "x": {"field": "step", "type": "quantitative", "scale": {"domain": [-500, 5500], "nice": false, "zero": false}, "axis": {"title": "MC steps", "format": "d", "values": [0,500,1000,1500,2000,2500,3000,3500,4000,4500,5000], "labelExpr": "datum.value % 1000 == 0 ? datum.label : ''"}},
           "y": {"field": "sro", "type": "quantitative", "scale": {"domain": [-0.09, 1.0], "nice": false, "zero": false}, "axis": {"title": "SRO parameter", "format": ".1f", "values": [0,0.1,0.2,0.3,0.4,0.5,0.6,0.7,0.8,0.9,1.0], "labelExpr": "round(datum.value*10) % 2 == 0 ? datum.label : ''"}},
           "color": {"field": "s", "type": "nominal", "scale": {"domain": ["800 K", "1000 K", "1200 K"], "range": ["#ff2020", "#cc3acc", "#808080"]},
             "legend": {"legendX": 243, "legendY": 151, "symbolSize": 289, "symbolStrokeWidth": 1.5, "clipHeight": 11, "rowPadding": 2, "labelFontSize": 10.5, "labelOffset": 5}}
         }}
      ]
    }
  ]
}
